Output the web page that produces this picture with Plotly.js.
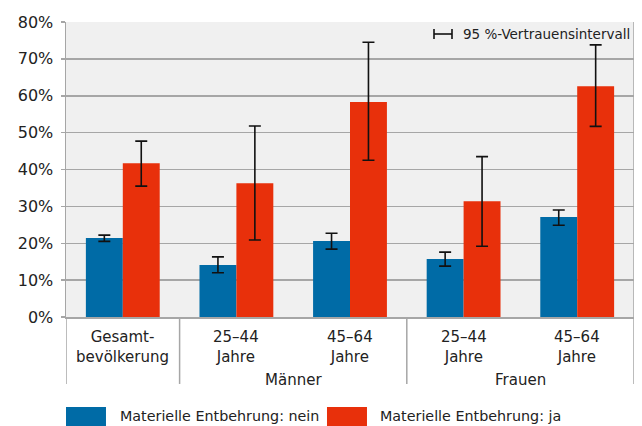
<!DOCTYPE html>
<html>
<head>
<meta charset="utf-8">
<script src="https://cdn.plot.ly/plotly-3.0.1.min.js"></script>
<style>body{margin:0;padding:0;background:#fff}#chart{width:642px;height:426px}</style>
</head>
<body>
<div id="chart"></div>
<script>
// Data
const groups = ["Gesamt-<br>bevölkerung", "25–44<br>Jahre", "45–64<br>Jahre", "25–44<br>Jahre", "45–64<br>Jahre"];
const parents = ["", "Männer", "Männer", "Frauen", "Frauen"];
const neinValues = [21.4, 14.1, 20.6, 15.7, 27.1];
const neinUpper = [22.2, 16.3, 22.7, 17.6, 29.0];
const neinLower = [20.5, 12.0, 18.4, 13.8, 24.9];
const jaValues = [41.7, 36.3, 58.3, 31.4, 62.6];
const jaUpper = [47.7, 51.8, 74.5, 43.5, 73.8];
const jaLower = [35.5, 20.9, 42.5, 19.2, 51.7];
const seriesNames = ["Materielle Entbehrung: nein", "Materielle Entbehrung: ja"];
const yTicks = [0, 10, 20, 30, 40, 50, 60, 70, 80];
const ciLabel = "95 %-Vertrauensintervall";

const blue = "#006ba6", red = "#e8300b", grid = "#a6a6a6";
const font = "DejaVu Sans, sans-serif";
const idx = groups.map((_, i) => i);

function trace(vals, up, lo, color, name) {
  return {
    type: "bar", x: idx, y: vals, name: name, marker: {color: color},
    error_y: {type: "data", symmetric: false,
      array: vals.map((v, i) => up[i] - v),
      arrayminus: vals.map((v, i) => v - lo[i]),
      color: "#111", thickness: 1.6, width: 6},
    hoverinfo: "skip"
  };
}

const data = [
  trace(neinValues, neinUpper, neinLower, blue, seriesNames[0]),
  trace(jaValues, jaUpper, jaLower, red, seriesNames[1])
];

const annotations = [];
groups.forEach((g, i) => {
  annotations.push({xref: "x", yref: "paper", x: i, y: 0, yanchor: "top", yshift: -9,
    text: g, showarrow: false, font: {family: font, size: 15, color: "#222"}, align: "center"});
});
// parent labels
const parentNames = [...new Set(parents.filter(p => p))];
parentNames.forEach(p => {
  const ids = idx.filter(i => parents[i] === p);
  const c = (ids[0] + ids[ids.length - 1]) / 2;
  annotations.push({xref: "x", yref: "paper", x: c, y: 0, yanchor: "top", yshift: -52,
    text: p, showarrow: false, font: {family: font, size: 15, color: "#222"}});
});
// legend
annotations.push({xref: "paper", yref: "paper", x: 0.0915, y: -0.337, xanchor: "left", yanchor: "middle",
  text: seriesNames[0], showarrow: false, font: {family: font, size: 14.3, color: "#222"}});
annotations.push({xref: "paper", yref: "paper", x: 0.549, y: -0.337, xanchor: "left", yanchor: "middle",
  text: seriesNames[1], showarrow: false, font: {family: font, size: 14.3, color: "#222"}});
// CI note
annotations.push({xref: "paper", yref: "paper", x: 0.997, y: 0.96, xanchor: "right", yanchor: "middle",
  text: ciLabel, showarrow: false, font: {family: font, size: 13.5, color: "#222"}});

const shapes = [];
[-0.5, 0.5, 2.5, 4.5].forEach(x => {
  shapes.push({type: "line", xref: "x", yref: "paper", x0: x, x1: x, y0: 0, y1: -0.227,
    line: {color: grid, width: 1.5}});
});
shapes.push({type: "line", xref: "x", yref: "paper", x0: 4.5, x1: 4.5, y0: 0, y1: 1, line: {color: grid, width: 1.5}});
shapes.push({type: "rect", xref: "paper", yref: "paper", x0: 0, x1: 0.0704, y0: -0.305, y1: -0.372,
  fillcolor: blue, line: {width: 0}});
shapes.push({type: "rect", xref: "paper", yref: "paper", x0: 0.4595, x1: 0.5299, y0: -0.305, y1: -0.372,
  fillcolor: red, line: {width: 0}});
// CI glyph
const gx0 = (434 - 66) / 568, gx1 = (452 - 66) / 568, gy = (317 - 34) / 295, gh = 5 / 295;
shapes.push({type: "line", xref: "paper", yref: "paper", x0: gx0, x1: gx1, y0: gy, y1: gy, line: {color: "#111", width: 1.6}});
shapes.push({type: "line", xref: "paper", yref: "paper", x0: gx0, x1: gx0, y0: gy - gh, y1: gy + gh, line: {color: "#111", width: 1.6}});
shapes.push({type: "line", xref: "paper", yref: "paper", x0: gx1, x1: gx1, y0: gy - gh, y1: gy + gh, line: {color: "#111", width: 1.6}});

const layout = {
  width: 642, height: 426,
  margin: {l: 66, r: 8, t: 22, b: 109},
  paper_bgcolor: "#fff", plot_bgcolor: "#f0f0f0",
  showlegend: false,
  barmode: "group", bargap: 0.35, bargroupgap: 0,
  xaxis: {range: [-0.5, 4.5], showticklabels: false, ticks: "", showgrid: false, zeroline: false,
    showline: true, linecolor: grid, linewidth: 1.5, fixedrange: true},
  yaxis: {range: [0, 80], tickvals: yTicks, ticktext: yTicks.map(v => v + "%"),
    showgrid: true, gridcolor: grid, gridwidth: 1.5, zeroline: false,
    showline: true, linecolor: grid, linewidth: 1.5, ticks: "outside", ticklen: 4, tickcolor: grid, tickwidth: 1.5,
    ticklabelstandoff: 4,
    tickfont: {family: font, size: 16, color: "#222"}, fixedrange: true},
  annotations: annotations, shapes: shapes
};

Plotly.newPlot("chart", data, layout, {displayModeBar: false, staticPlot: true});
</script>
</body>
</html>
